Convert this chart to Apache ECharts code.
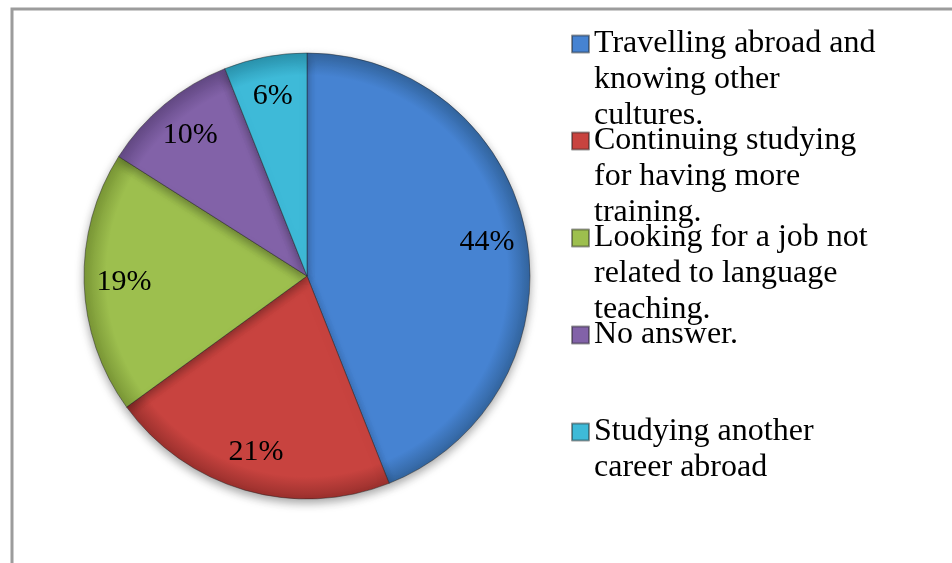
<!DOCTYPE html>
<html>
<head>
<meta charset="utf-8">
<script src="https://cdn.jsdelivr.net/npm/echarts@6/dist/echarts.min.js"></script>
<style>
  html, body { margin: 0; padding: 0; background: #ffffff; }
  #chart { width: 952px; height: 563px; }
</style>
</head>
<body>
<div id="chart"></div>
<script>
// Answer categories and their shares (percent)
const categories = [
  'Travelling abroad and knowing other cultures.',
  'Continuing studying for having more training.',
  'Looking for a job not related to language teaching.',
  'No answer.',
  'Studying another career abroad'
];
const shares = [44, 21, 19, 10, 6];

// Legend text, broken into the lines shown next to each swatch
const legendLines = [
  ['Travelling abroad and', 'knowing other', 'cultures.'],
  ['Continuing studying', 'for having more', 'training.'],
  ['Looking for a job not', 'related to language', 'teaching.'],
  ['No answer.'],
  ['Studying another', 'career abroad']
];

const sliceColors = ['#4683D2', '#C8433F', '#9DBF4E', '#8262A8', '#3EBAD8'];
const rimColors   = ['#33659F', '#9A302D', '#7A9736', '#634985', '#2A93AE'];

const CX = 307, CY = 276, R = 223;
const LINE_H = 36;
const MAX_LINES = 3;
const SWATCH = 17;
// swatch sits at the top of a tall, mostly empty icon box so that it
// lines up with the first line of a three-line legend entry
const ICON_H = SWATCH + LINE_H * (MAX_LINES - 1);
const legendIcon = 'path://M0,0H' + SWATCH + 'V' + SWATCH + 'H0Z M0,' + ICON_H;

const chart = echarts.init(document.getElementById('chart'), null, { renderer: 'canvas' });

function sliceFill(i) {
  return new echarts.graphic.RadialGradient(CX, CY, R, [
    { offset: 0, color: sliceColors[i] },
    { offset: 0.9, color: sliceColors[i] },
    { offset: 1, color: rimColors[i] }
  ], true);
}

const legendText = {};
categories.forEach((name, i) => {
  const lines = legendLines[i].slice();
  while (lines.length < MAX_LINES) lines.push('\u00a0');
  legendText[name] = lines.join('\n');
});

const option = {
  animation: false,
  backgroundColor: '#ffffff',
  graphic: [{
    type: 'rect',
    silent: true,
    shape: { x: 12, y: 9, width: 1000, height: 700 },
    style: { fill: 'none', stroke: '#9c9c9c', lineWidth: 3 }
  }],
  legend: {
    orient: 'vertical',
    left: 571,
    top: 26,
    height: 1000,
    padding: 0,
    itemWidth: SWATCH,
    itemHeight: ICON_H,
    itemGap: -11,
    selectedMode: false,
    icon: legendIcon,
    data: categories.map((name, i) => ({
      name: name,
      itemStyle: { color: sliceColors[i] }
    })),
    formatter: name => legendText[name],
    textStyle: {
      fontFamily: '"Liberation Serif", "Times New Roman", serif',
      fontSize: 32,
      lineHeight: LINE_H,
      color: '#000000'
    }
  },
  series: [{
    type: 'pie',
    center: [CX, CY],
    radius: [0, R],
    startAngle: 90,
    clockwise: true,
    silent: true,
    avoidLabelOverlap: false,
    data: categories.map((name, i) => ({
      name: name,
      value: shares[i],
      itemStyle: { color: sliceFill(i) }
    })),
    itemStyle: {
      borderColor: 'rgba(30,30,30,0.45)',
      borderWidth: 1,
      shadowColor: 'rgba(0,0,0,0.35)',
      shadowBlur: 10,
      shadowOffsetY: 4
    },
    label: {
      show: true,
      position: 'inside',
      formatter: '{c}%',
      fontFamily: '"Liberation Serif", "Times New Roman", serif',
      fontSize: 30,
      color: '#000000'
    },
    labelLine: { show: false },
    // push the percentage labels out toward the rim
    labelLayout: function (params) {
      const r = params.labelRect;
      const lx = r.x + r.width / 2;
      const ly = r.y + r.height / 2;
      const k = 1.6;
      return { x: CX + (lx - CX) * k, y: CY + (ly - CY) * k };
    },
    emphasis: { disabled: true }
  }]
};

chart.setOption(option);
</script>
</body>
</html>
